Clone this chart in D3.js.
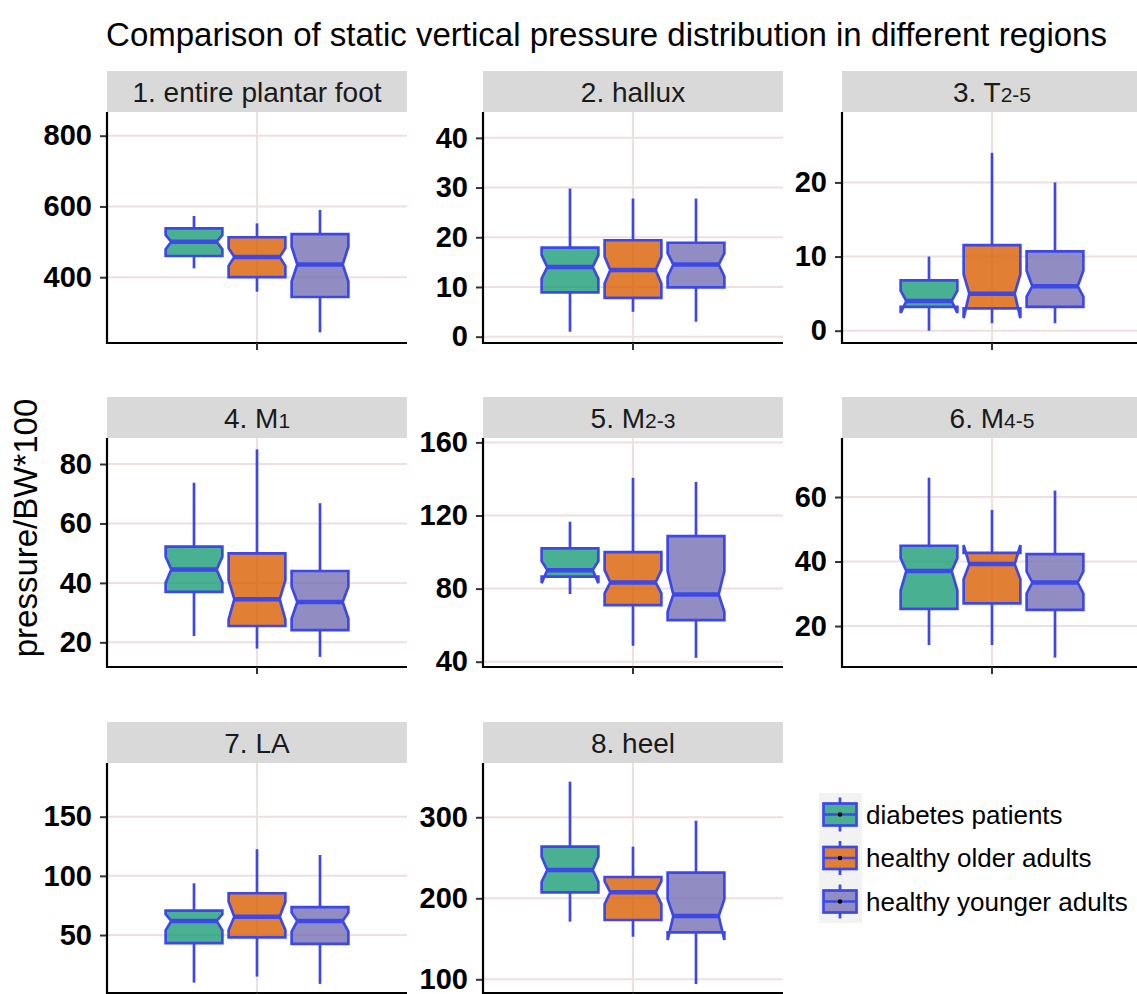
<!DOCTYPE html>
<html>
<head>
<meta charset="utf-8">
<script src="https://cdn.jsdelivr.net/npm/d3@7"></script>
<style>
  body { margin: 0; background: #fff; }
  svg { display: block; }
  text { font-family: "Liberation Sans", Arial, Helvetica, sans-serif; }
</style>
</head>
<body>
<svg id="chart" width="1137" height="994"></svg>
<script>
// ---- data ----
const groups = ["diabetes patients", "healthy older adults", "healthy younger adults"];
const groupFills = ["#1b9e77", "#d95f02", "#7570b3"];

const regionLabels = ["1. entire plantar foot", "2. hallux", "3. T", "4. M", "5. M", "6. M", "7. LA", "8. heel"];
const regionSubscripts = ["", "", "2-5", "1", "2-3", "4-5", "", ""];

// per region: [diabetes, older, younger]
const whiskerLow = [[425, 359, 244], [1, 5, 3], [0, 1, 1], [22.1, 17.9, 15.1], [77, 48.7, 42.1], [14.1, 14.1, 10.2], [9.8, 14.9, 8.7], [171.2, 152.6, 94.2]];
const hingeLow   = [[460, 400, 344], [8.9, 7.8, 9.9], [3.2, 3.0, 3.2], [37.0, 25.5, 24.1], [86.5, 71.0, 62.8], [25.3, 27.0, 25.0], [43.1, 48.1, 42.5], [207.4, 173.2, 158]];
const medians    = [[500, 457, 436], [14.0, 13.4, 14.5], [4.0, 5.0, 6.0], [44.5, 34.5, 33.6], [90.1, 83.4, 76.8], [37.1, 39.2, 33.5], [61.9, 65.5, 61.9], [234.9, 207.4, 178.1]];
const hingeHigh  = [[538, 513, 522], [17.9, 19.4, 18.9], [6.8, 11.55, 10.7], [52.2, 49.9, 44.0], [102.0, 100.0, 108.7], [44.9, 42.7, 42.3], [70.6, 85.3, 73.5], [263.7, 226.3, 231.6]];
const whiskerHigh= [[573, 552, 590], [29.8, 27.8, 27.8], [10, 24, 20], [73.7, 84.9, 66.8], [116.6, 140.6, 138.4], [66.0, 56.0, 62.0], [93.7, 122.5, 117.7], [344, 263.7, 295.8]];
const notchLow   = [[479, 432, 388], [11.7, 10.7, 12.1], [2.4, 1.7, 4.6], [40.0, 27.7, 28.0], [83, 77.4, 67.3], [31, 34.5, 30.1], [54, 54.3, 52.9], [220.5, 193, 148.5]];
const notchHigh  = [[519, 482, 486], [16.4, 16.1, 16.8], [5.4, 7.6, 8.1], [48.8, 40.9, 38.7], [95, 90.1, 89.6], [41, 45.1, 36.9], [67.5, 78.2, 68.9], [251.4, 221, 198.8]];

const yDomains = [[214, 867], [-1.27, 45.2], [-1.66, 29.5], [11.7, 88.75], [37.1, 162.4], [7.3, 78.3], [1, 195.4], [83.1, 367]];
const yTicks = [[400, 600, 800], [0, 10, 20, 30, 40], [0, 10, 20], [20, 40, 60, 80], [40, 80, 120, 160], [20, 40, 60], [50, 100, 150], [100, 200, 300]];

const titleText = "Comparison of static vertical pressure distribution in different regions";
const yTitleText = "pressure/BW*100";

// ---- layout ----
const colLeft = [107, 483, 842];
const rowPlotTop = [112, 438, 763];
const rowPlotBottom = [343, 667, 993];
const panelW = 300, stripH = 41;
const outline = "#3d48e6";
const gridColor = "#f0dfdf";

const svg = d3.select("#chart");

svg.append("text")
  .attr("x", 606.5).attr("y", 46)
  .attr("text-anchor", "middle")
  .attr("font-size", 33)
  .attr("fill", "#000")
  .text(titleText);

svg.append("text")
  .attr("transform", "translate(37,528) rotate(-90)")
  .attr("text-anchor", "middle")
  .attr("font-size", 33)
  .attr("fill", "#000")
  .text(yTitleText);

regionLabels.forEach((label, i) => {
  const col = i % 3, row = Math.floor(i / 3);
  const left = colLeft[col];
  const top = rowPlotTop[row], bottom = rowPlotBottom[row];
  const g = svg.append("g").attr("transform", `translate(${left},0)`);

  const xCat = d3.scaleBand().domain(["all"]).range([0, panelW]).paddingOuter(0);
  const cx = xCat("all") + xCat.bandwidth() / 2;
  const xGroup = d3.scaleBand().domain(groups)
    .range([cx - 94.5, cx + 94.5]).paddingInner(0.1).paddingOuter(0.05);
  const y = d3.scaleLinear().domain(yDomains[i]).range([bottom, top]);

  // strip
  g.append("rect").attr("x", 0).attr("y", top - stripH)
    .attr("width", panelW).attr("height", stripH).attr("fill", "#d9d9d9");
  const st = g.append("text")
    .attr("x", cx).attr("y", top - stripH / 2 + 10)
    .attr("text-anchor", "middle").attr("font-size", 28).attr("fill", "#1a1a1a");
  st.append("tspan").text(label);
  if (regionSubscripts[i]) st.append("tspan").attr("font-size", 21).text(regionSubscripts[i]);

  // grid
  g.selectAll(".hgrid").data(yTicks[i]).join("line")
    .attr("x1", 0).attr("x2", panelW)
    .attr("y1", d => y(d)).attr("y2", d => y(d))
    .attr("stroke", gridColor).attr("stroke-width", 2);
  g.append("line").attr("x1", cx).attr("x2", cx).attr("y1", top).attr("y2", bottom)
    .attr("stroke", gridColor).attr("stroke-width", 2);

  // boxes
  groups.forEach((grp, k) => {
    const x0 = xGroup(grp), bw = xGroup.bandwidth(), x1 = x0 + bw, xm = x0 + bw / 2;
    const nw = bw * 0.1;
    g.append("line").attr("x1", xm).attr("x2", xm)
      .attr("y1", y(hingeHigh[i][k])).attr("y2", y(whiskerHigh[i][k]))
      .attr("stroke", outline).attr("stroke-width", 2.7);
    g.append("line").attr("x1", xm).attr("x2", xm)
      .attr("y1", y(hingeLow[i][k])).attr("y2", y(whiskerLow[i][k]))
      .attr("stroke", outline).attr("stroke-width", 2.7);
    const pts = [
      [x0, y(hingeHigh[i][k])], [x0, y(notchHigh[i][k])], [x0 + nw, y(medians[i][k])],
      [x0, y(notchLow[i][k])], [x0, y(hingeLow[i][k])], [x1, y(hingeLow[i][k])],
      [x1, y(notchLow[i][k])], [x1 - nw, y(medians[i][k])], [x1, y(notchHigh[i][k])],
      [x1, y(hingeHigh[i][k])]
    ];
    g.append("path").attr("d", d3.line()(pts) + "Z")
      .attr("fill", groupFills[k]).attr("fill-opacity", 0.8)
      .attr("stroke", outline).attr("stroke-width", 2.7).attr("stroke-linejoin", "miter");
    g.append("line").attr("x1", x0 + nw).attr("x2", x1 - nw)
      .attr("y1", y(medians[i][k])).attr("y2", y(medians[i][k]))
      .attr("stroke", outline).attr("stroke-width", 4.5);
  });

  // axes
  const ay = g.append("g").call(d3.axisLeft(y).tickValues(yTicks[i]).tickSize(7).tickPadding(8).tickSizeOuter(0));
  ay.select(".domain").remove();
  ay.selectAll(".tick line").attr("stroke", "#333").attr("stroke-width", 2);
  ay.selectAll(".tick text").attr("font-size", 29).attr("font-weight", "bold").attr("fill", "#000")
    .attr("font-family", "Liberation Sans, Arial, sans-serif");
  g.append("line").attr("x1", 0).attr("x2", 0).attr("y1", top).attr("y2", bottom + 1)
    .attr("stroke", "#000").attr("stroke-width", 2.2);
  g.append("line").attr("x1", -1).attr("x2", panelW).attr("y1", bottom).attr("y2", bottom)
    .attr("stroke", "#000").attr("stroke-width", 2.2);
  g.append("line").attr("x1", cx).attr("x2", cx).attr("y1", bottom).attr("y2", bottom + 7)
    .attr("stroke", "#333").attr("stroke-width", 2);
});

// legend
const lg = svg.append("g").attr("transform", "translate(819,793)");
lg.append("rect").attr("width", 43).attr("height", 130).attr("fill", "#f2f2f2");
const keyY = d3.scalePoint().domain(groups).range([21.5, 108.5]);
groups.forEach((grp, k) => {
  const cy = keyY(grp);
  lg.append("line").attr("x1", 21).attr("x2", 21).attr("y1", cy - 17).attr("y2", cy + 17)
    .attr("stroke", outline).attr("stroke-width", 2.7);
  lg.append("rect").attr("x", 4.5).attr("y", cy - 11).attr("width", 33).attr("height", 22)
    .attr("fill", "#fff");
  lg.append("rect").attr("x", 4.5).attr("y", cy - 11).attr("width", 33).attr("height", 22)
    .attr("fill", groupFills[k]).attr("fill-opacity", 0.8)
    .attr("stroke", outline).attr("stroke-width", 2.7);
  lg.append("line").attr("x1", 4.5).attr("x2", 37.5).attr("y1", cy).attr("y2", cy)
    .attr("stroke", outline).attr("stroke-width", 2.7);
  lg.append("circle").attr("cx", 21).attr("cy", cy).attr("r", 2.2).attr("fill", "#000");
  lg.append("text").attr("x", 47).attr("y", cy + 9)
    .attr("font-size", 26).attr("fill", "#000").text(grp);
});
</script>
</body>
</html>
